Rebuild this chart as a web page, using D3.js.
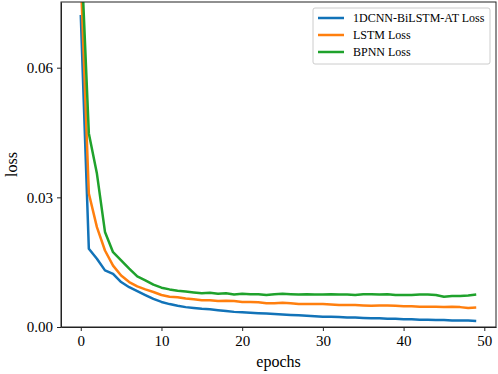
<!DOCTYPE html>
<html>
<head>
<meta charset="utf-8">
<script src="https://cdn.jsdelivr.net/npm/d3@7"></script>
<style>
  body { margin: 0; background: #fff; }
  svg text { font-family: "Liberation Serif", "DejaVu Serif", serif; fill: #000; }
  .axis path, .axis line { stroke: #222; }
  .line { fill: none; stroke-width: 2.5; stroke-linejoin: round; }
</style>
</head>
<body>
<div id="plot"></div>
<script>
const epochs = d3.range(0, 50)
const blueLoss = [0.0722, 0.0181, 0.0158, 0.0131, 0.0123, 0.0104, 0.0092, 0.0083, 0.0074, 0.0065,
  0.0058, 0.0053, 0.0049, 0.0046, 0.0044, 0.0042, 0.0041, 0.0039, 0.0037, 0.0035,
  0.0034, 0.0033, 0.0032, 0.0031, 0.0030, 0.0029, 0.0028, 0.0027, 0.0026, 0.0025,
  0.0024, 0.0024, 0.0023, 0.0022, 0.0022, 0.0021, 0.0020, 0.0020, 0.0019, 0.0019,
  0.0018, 0.0018, 0.0017, 0.0017, 0.0016, 0.0016, 0.0015, 0.0015, 0.0015, 0.0014]
const lstmLoss = [0.081, 0.0309, 0.0231, 0.0177, 0.0142, 0.0119, 0.0104, 0.0094, 0.0087, 0.0081,
  0.0074, 0.0070, 0.0069, 0.0066, 0.0064, 0.0062, 0.0062, 0.0060, 0.0061, 0.0060,
  0.0058, 0.0058, 0.0057, 0.0055, 0.0055, 0.0056, 0.0055, 0.0053, 0.0053, 0.0053,
  0.0053, 0.0052, 0.0051, 0.0051, 0.0051, 0.0050, 0.0049, 0.0050, 0.0050, 0.0049,
  0.0048, 0.0048, 0.0047, 0.0047, 0.0047, 0.0046, 0.0047, 0.0046, 0.0044, 0.0045]
const bpnnLoss = [0.0887, 0.0448, 0.0355, 0.0220, 0.0173, 0.0154, 0.0135, 0.0117, 0.0108, 0.0098,
  0.0091, 0.0087, 0.0084, 0.0082, 0.0080, 0.0078, 0.0079, 0.0077, 0.0078, 0.0075,
  0.0077, 0.0076, 0.0076, 0.0074, 0.0076, 0.0077, 0.0076, 0.0075, 0.0076, 0.0075,
  0.0075, 0.0076, 0.0075, 0.0075, 0.0074, 0.0076, 0.0076, 0.0075, 0.0076, 0.0074,
  0.0074, 0.0074, 0.0075, 0.0075, 0.0074, 0.0070, 0.0072, 0.0072, 0.0073, 0.0075]
const seriesNames = ["1DCNN-BiLSTM-AT Loss", "LSTM Loss", "BPNN Loss"]
const seriesColors = ["#1273b8", "#ff7f0e", "#1fa22c"]
const xTicks = [0, 10, 20, 30, 40, 50]
const yTicks = [0, 0.03, 0.06]

const w = 498, h = 374,
    margin = {top: 2, right: 2, bottom: 47, left: 61},
    x = d3.scaleLinear()
      .domain([-2.45, 51.45])
      .range([margin.left, w - margin.right]),
    y = d3.scaleLinear()
      .domain([0, 0.0752])
      .range([h - margin.bottom, margin.top])

const svg = d3.select("#plot").append("svg")
  .attr("width", w)
  .attr("height", h)

svg.append("clipPath")
  .attr("id", "rect-clip")
  .append("rect")
  .attr("x", margin.left)
  .attr("y", margin.top)
  .attr("width", w - margin.right - margin.left)
  .attr("height", h - margin.bottom - margin.top)

const all = [blueLoss, lstmLoss, bpnnLoss]
all.forEach((vals, i) => {
  svg.append("path")
    .datum(epochs.map((e, j) => ({x: e, y: vals[j]})))
    .attr("class", "line")
    .attr("stroke", seriesColors[i])
    .attr("clip-path", "url(#rect-clip)")
    .attr("d", d3.line()
      .x(d => x(d.x))
      .y(d => y(d.y)))
})

// axes
svg.append("g")
  .attr("class", "axis")
  .attr("transform", `translate(0, ${h - margin.bottom})`)
  .call(d3.axisBottom(x).tickValues(xTicks).tickSize(4).tickPadding(4).tickSizeOuter(0))
  .call(g => g.selectAll("text").style("font-size", "15px"))

svg.append("g")
  .attr("class", "axis")
  .attr("transform", `translate(${margin.left}, 0)`)
  .call(d3.axisLeft(y).tickValues(yTicks).tickFormat(d3.format(".2f")).tickSize(4).tickPadding(4).tickSizeOuter(0))
  .call(g => g.selectAll("text").style("font-size", "15px"))

// frame
svg.append("rect")
  .attr("x", margin.left)
  .attr("y", margin.top)
  .attr("width", w - margin.right - margin.left)
  .attr("height", h - margin.bottom - margin.top)
  .attr("fill", "none")
  .attr("stroke", "#222")

svg.append("text")
  .attr("x", (margin.left + w - margin.right) / 2)
  .attr("y", 367)
  .style("text-anchor", "middle")
  .style("font-size", "16px")
  .text("epochs")

svg.append("text")
  .attr("transform", "rotate(-90)")
  .attr("x", -(margin.top + h - margin.bottom) / 2)
  .attr("y", 17)
  .style("text-anchor", "middle")
  .style("font-size", "16px")
  .text("loss")

// legend
const legend = svg.append("g")
  .attr("transform", "translate(313, 8)")

legend.append("rect")
  .attr("width", 177)
  .attr("height", 56)
  .attr("rx", 2)
  .attr("fill", "#fff")
  .attr("stroke", "#ccc")

seriesNames.forEach((name, i) => {
  const row = legend.append("g").attr("transform", `translate(0, ${10 + i * 17})`)
  row.append("line")
    .attr("x1", 5).attr("x2", 31)
    .attr("y1", 0).attr("y2", 0)
    .attr("stroke", seriesColors[i])
    .attr("stroke-width", 2.5)
  row.append("text")
    .attr("x", 40)
    .attr("y", 4)
    .style("font-size", "12px")
    .text(name)
})
</script>
</body>
</html>
